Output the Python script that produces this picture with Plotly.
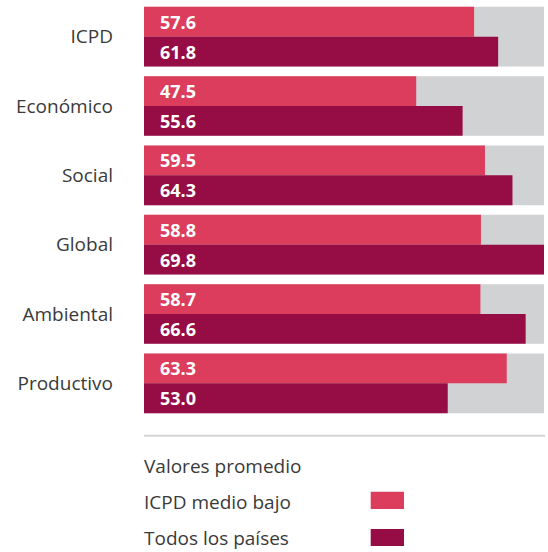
import plotly.graph_objects as go

categories = ["ICPD", "Económico", "Social", "Global", "Ambiental", "Productivo"]
icpd_medio_bajo = [57.6, 47.5, 59.5, 58.8, 58.7, 63.3]
todos_los_paises = [61.8, 55.6, 64.3, 69.8, 66.6, 53.0]
legend_title = "Valores promedio"
series_names = ["ICPD medio bajo", "Todos los países"]

PINK = "#DC3D5C"
DARK = "#960C45"
GREY = "#D1D2D4"
TEXT = "#3a3a3a"

W, H = 548, 552
ML, MR, MT, MB = 144, 4, 2, 134
PW, PH = W - ML - MR, H - MT - MB

def px_x(px):
    return (px - ML) / PW

def px_y(py):
    return (H - MB - py) / PH

vmax = max(icpd_medio_bajo + todos_los_paises)
half = 0.43

fig = go.Figure()
fig.add_trace(go.Bar(y=categories, x=[vmax] * len(categories), orientation="h",
                     marker=dict(color=GREY, line=dict(width=0)),
                     width=2 * half, offset=-half, hoverinfo="skip", showlegend=False))
fig.add_trace(go.Bar(y=categories, x=icpd_medio_bajo, orientation="h", name=series_names[0],
                     marker=dict(color=PINK, line=dict(width=0)),
                     width=half, offset=-half, showlegend=False))
fig.add_trace(go.Bar(y=categories, x=todos_los_paises, orientation="h", name=series_names[1],
                     marker=dict(color=DARK, line=dict(width=0)),
                     width=half, offset=0, showlegend=False))

annotations = []
label_font = dict(family="Open Sans", size=18, color="white")
for i, c in enumerate(categories):
    annotations.append(dict(x=0, y=i - half / 2, xref="x", yref="y", text=f"<b>{icpd_medio_bajo[i]:.1f}</b>",
                            showarrow=False, xanchor="left", yanchor="middle", xshift=14, font=label_font))
    annotations.append(dict(x=0, y=i + half / 2, xref="x", yref="y", text=f"<b>{todos_los_paises[i]:.1f}</b>",
                            showarrow=False, xanchor="left", yanchor="middle", xshift=14, font=label_font))

leg_font = dict(family="Open Sans", size=19, color=TEXT)
for txt, py in [(legend_title, 466), (series_names[0], 501.7), (series_names[1], 538.3)]:
    annotations.append(dict(x=px_x(144), y=px_y(py), xref="paper", yref="paper", text=txt, xshift=-2,
                            showarrow=False, xanchor="left", yanchor="middle", font=leg_font))

shapes = [
    dict(type="line", xref="paper", yref="paper", x0=px_x(144), x1=px_x(545), y0=px_y(435.7), y1=px_y(435.7),
         line=dict(color="#D4D4D4", width=2)),
    dict(type="rect", xref="paper", yref="paper", x0=px_x(370.7), x1=px_x(404), y0=px_y(509), y1=px_y(491.7),
         fillcolor=PINK, line=dict(width=0)),
    dict(type="rect", xref="paper", yref="paper", x0=px_x(370.7), x1=px_x(404), y0=px_y(546), y1=px_y(529),
         fillcolor=DARK, line=dict(width=0)),
]

fig.update_layout(
    width=W, height=H,
    margin=dict(l=ML, r=MR, t=MT, b=MB, pad=0),
    barmode="overlay",
    plot_bgcolor="white", paper_bgcolor="white",
    showlegend=False,
    xaxis=dict(range=[0, vmax], visible=False, fixedrange=True),
    yaxis=dict(autorange="reversed", showgrid=False, zeroline=False, showline=False, ticks="",
               ticklabelstandoff=30, tickfont=dict(family="Open Sans", size=19, color=TEXT), fixedrange=True),
    annotations=annotations,
    shapes=shapes,
)

fig.write_html("out.html", config={"displayModeBar": False},
               post_script="document.body.style.margin='0';document.body.style.overflow='hidden';")
